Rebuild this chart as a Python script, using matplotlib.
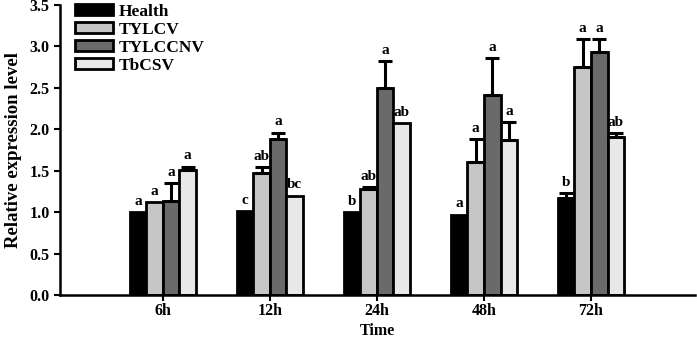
import numpy as np
import matplotlib.pyplot as plt
from matplotlib.patches import Patch

plt.rcParams['font.family'] = ['Liberation Serif', 'DejaVu Serif']
plt.rcParams['font.weight'] = 'bold'

# data
times = ["6h", "12h", "24h", "48h", "72h"]
groups = ["Health", "TYLCV", "TYLCCNV", "TbCSV"]
health = [1.00, 1.01, 1.00, 0.97, 1.17]
tylcv = [1.12, 1.47, 1.28, 1.61, 2.75]
tylccnv = [1.13, 1.88, 2.50, 2.41, 2.93]
tbcsv = [1.51, 1.20, 2.08, 1.87, 1.91]
health_err = [0.0, 0.0, 0.0, 0.0, 0.06]
tylcv_err = [0.0, 0.07, 0.02, 0.27, 0.34]
tylccnv_err = [0.22, 0.08, 0.32, 0.45, 0.16]
tbcsv_err = [0.04, 0.0, 0.0, 0.22, 0.04]
letters = [
    ["a", "c", "b", "a", "b"],
    ["a", "ab", "ab", "a", "a"],
    ["a", "a", "a", "a", "a"],
    ["a", "bc", "ab", "a", "ab"],
]

colors = ["#000000", "#c6c6c6", "#6a6a6a", "#e8e8e8"]
values = [health, tylcv, tylccnv, tbcsv]
errors = [health_err, tylcv_err, tylccnv_err, tbcsv_err]

fig = plt.figure(figsize=(6.97, 3.39), dpi=100)
ax = fig.add_axes([0.086, 0.13, 0.911, 0.855])

x = np.arange(len(times))
w = 0.155
offsets = [-1.5 * w, -0.5 * w, 0.5 * w, 1.5 * w]

for vals, errs, col, off, lab, lets in zip(values, errors, colors, offsets, groups, letters):
    xs = x + off
    ax.bar(xs, vals, width=w, color=col, edgecolor="black", linewidth=2, label=lab, zorder=2)
    for xi, v, e, l in zip(xs, vals, errs, lets):
        if e > 0:
            ax.errorbar(xi, v, yerr=[[0], [e]], fmt="none", ecolor="black",
                        elinewidth=2.2, capsize=5, capthick=2.2, zorder=3)
        ax.text(xi, v + e + 0.05, l, ha="center", va="bottom", fontsize=11, fontweight="bold")

ax.set_xlim(-0.96, 4.97)
ax.set_ylim(0, 3.5)
ax.set_yticks(np.arange(0, 3.51, 0.5))
ax.set_yticklabels([f"{t:.1f}" for t in np.arange(0, 3.51, 0.5)], fontsize=11.5, fontweight="bold")
ax.set_xticks(x)
ax.set_xticklabels(times, fontsize=11.5, fontweight="bold")
ax.set_xlabel("Time", fontsize=11.5, fontweight="bold", labelpad=2.5)
ax.set_ylabel("Relative expression level", fontsize=13.5, fontweight="bold", labelpad=5)

ax.spines["top"].set_visible(False)
ax.spines["right"].set_visible(False)
ax.spines["left"].set_linewidth(1.8)
ax.spines["bottom"].set_linewidth(1.8)
ax.tick_params(axis="both", width=1.5, length=4)
ax.tick_params(axis="x", pad=2)

handles = [Patch(facecolor=c, edgecolor="black", linewidth=2) for c in colors]
ax.legend(handles, groups, loc="upper left", bbox_to_anchor=(0.024, 1.005), frameon=False,
          fontsize=12.5, handlelength=2.2, handleheight=0.6, labelspacing=0.12,
          handletextpad=0.3, borderaxespad=0, borderpad=0)

plt.savefig("out.png", dpi=100)
